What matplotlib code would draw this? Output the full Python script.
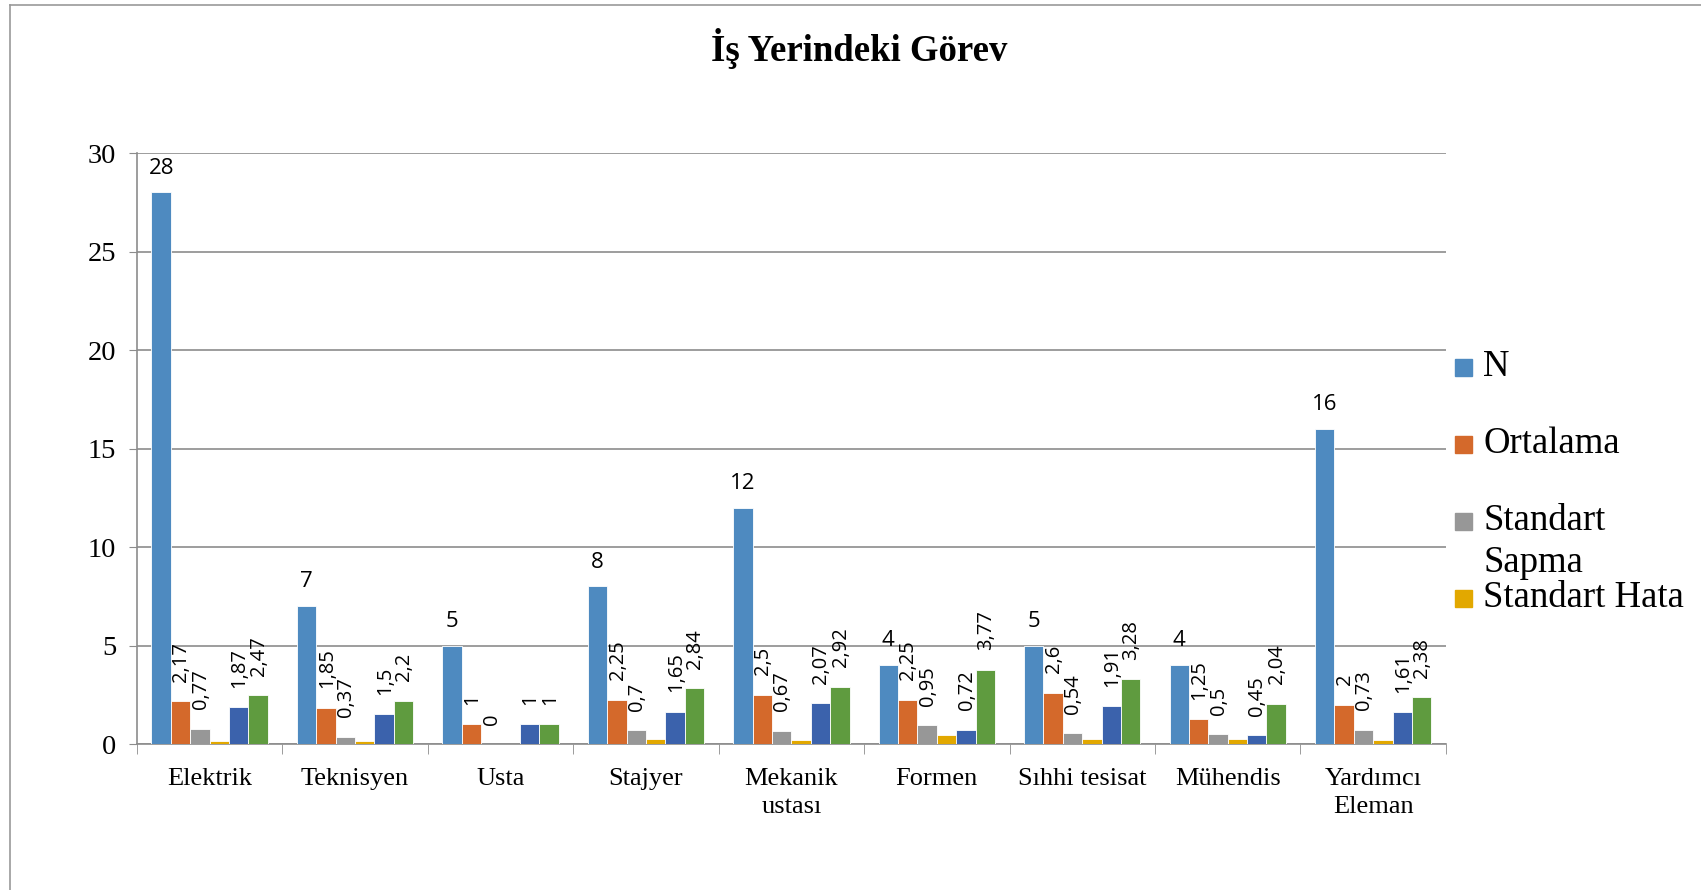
import numpy as np
import matplotlib.pyplot as plt
from matplotlib.patches import Rectangle
from matplotlib.lines import Line2D

categories = ['Elektrik', 'Teknisyen', 'Usta', 'Stajyer', 'Mekanik\nustası',
              'Formen', 'Sıhhi tesisat', 'Mühendis', 'Yardımcı\nEleman']
n_vals = [28, 7, 5, 8, 12, 4, 5, 4, 16]
ortalama = [2.17, 1.85, 1, 2.25, 2.5, 2.25, 2.6, 1.25, 2]
std_sapma = [0.77, 0.37, 0, 0.7, 0.67, 0.95, 0.54, 0.5, 0.73]
std_hata = [0.15, 0.14, 0, 0.25, 0.19, 0.48, 0.24, 0.25, 0.18]
alt_sinir = [1.87, 1.5, 1, 1.65, 2.07, 0.72, 1.91, 0.45, 1.61]
ust_sinir = [2.47, 2.2, 1, 2.84, 2.92, 3.77, 3.28, 2.04, 2.38]

series = [('N', n_vals, '#4E8AC0'),
          ('Ortalama', ortalama, '#D4692B'),
          ('Standart Sapma', std_sapma, '#979797'),
          ('Standart Hata', std_hata, '#E2A800'),
          ('Alt Sınır', alt_sinir, '#3B62AC'),
          ('Üst Sınır', ust_sinir, '#5F9B3F')]

serif = ['Liberation Serif', 'DejaVu Serif']
sans = ['Open Sans', 'DejaVu Sans']

fig = plt.figure(figsize=(17.01, 8.90), dpi=100)
ax = fig.add_axes([0.0805, 0.164, 0.7695, 0.664])

x = np.arange(len(categories))
w = 0.8 / 6
for i, (name, vals, col) in enumerate(series):
    pos = x - 0.4 + w * (i + 0.5)
    ax.bar(pos, vals, w, color=col, zorder=3, edgecolor='white', linewidth=0.6)
    if name == 'Standart Hata':
        continue
    for px, v in zip(pos, vals):
        lab = ('%g' % v).replace('.', ',')
        if name == 'N':
            ax.annotate(lab, (px, v), xytext=(0, 10), textcoords='offset points',
                        ha='center', va='bottom', fontsize=16, family=sans)
        else:
            ax.annotate(lab, (px, v), xytext=(0.5, 14), textcoords='offset points',
                        ha='center', va='bottom', rotation=90, fontsize=14.5,
                        family=sans)

ax.set_xlim(-0.5, len(categories) - 0.5)
ax.set_ylim(0, 30)
ax.set_yticks(range(0, 31, 5))
ax.set_yticklabels([str(t) for t in range(0, 31, 5)], family=serif, fontsize=20.5)
ax.yaxis.grid(True, color='#8c8c8c', linewidth=1.2, zorder=0)
ax.set_xticks(x)
ax.set_xticklabels(categories, family=serif, fontsize=19, linespacing=1.35)
ax.set_xticks(np.arange(-0.5, len(categories), 1), minor=True)
ax.tick_params(axis='x', which='major', length=0, pad=17)
ax.tick_params(axis='x', which='minor', length=7, color='#8c8c8c')
ax.tick_params(axis='y', length=6, color='#8c8c8c', pad=9)
for s in ['top', 'right']:
    ax.spines[s].set_visible(False)
for s in ['left', 'bottom']:
    ax.spines[s].set_color('#8c8c8c')
    ax.spines[s].set_linewidth(1.2)

fig.text(0.505, 0.945, 'İş Yerindeki Görev', ha='center', va='center',
         family=serif, fontsize=26.5, fontweight='bold')

# legend drawn by hand, only the first four series fit in the reference
leg_rows = [('N', 0, 367), ('Ortalama', 1, 444), ('Standart', 2, 521),
            ('Sapma', None, 563), ('Standart Hata', 3, 598)]
W, H = 1701.0, 890.0
for txt, idx, ypx in leg_rows:
    fig.text(1483 / W, 1 - ypx / H, txt, ha='left', va='center',
             family=serif, fontsize=26.5)
    if idx is not None:
        fig.add_artist(Rectangle((1455 / W, 1 - (ypx + 9) / H), 17 / W, 17 / H,
                                 color=series[idx][2], transform=fig.transFigure))

fig.add_artist(Line2D([0.006, 0.006], [0, 0.994], color='#999999', lw=1.2))
fig.add_artist(Line2D([0.006, 1], [0.994, 0.994], color='#999999', lw=1.2))

fig.savefig('out.png', dpi=100)
